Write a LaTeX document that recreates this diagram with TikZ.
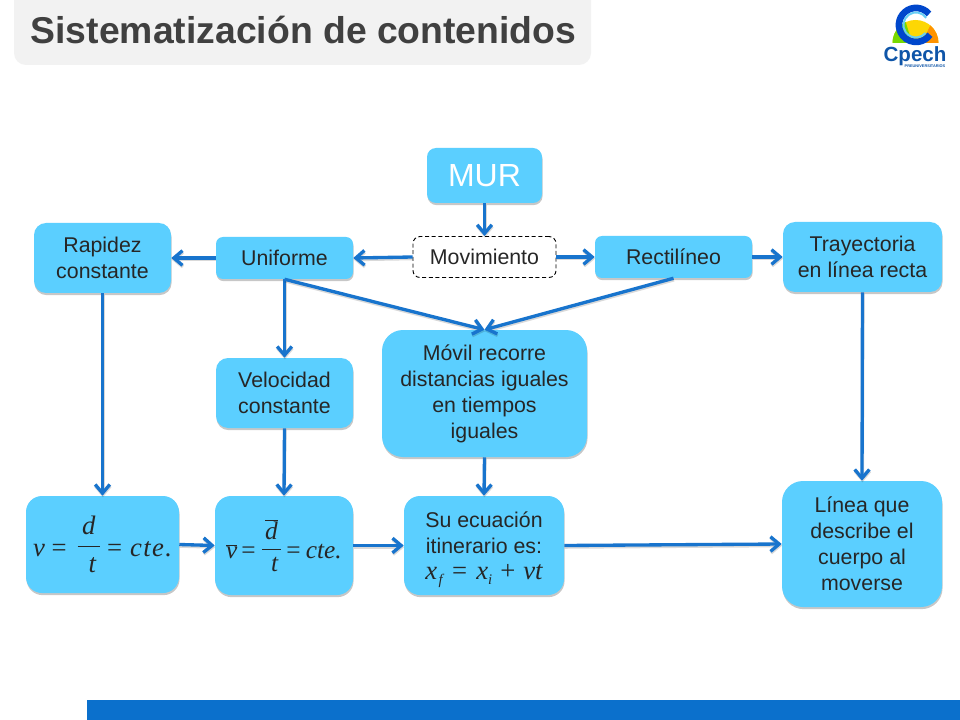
\documentclass[tikz,border=0pt]{standalone}
\usepackage{fontspec}
\setmainfont{Liberation Sans}
\newfontfamily\eqserif{Liberation Serif}
\usetikzlibrary{arrows.meta,shadows,calc}
\definecolor{boxblue}{HTML}{5BCFFF}
\definecolor{arrowblue}{HTML}{1874CD}
\definecolor{barblue}{HTML}{0B70CC}
\definecolor{titlegray}{HTML}{F2F2F2}
\definecolor{titletext}{HTML}{404040}
\definecolor{logoblue}{HTML}{0F55A8}
\newcommand{\mvar}[1]{\hbox{\eqserif\itshape #1}}
\newcommand{\mfrac}[3]{\raisebox{2.6pt}{$\displaystyle\frac{\hbox to #1{\hfil #2\hfil}\rule[-5pt]{0pt}{1pt}}{\hbox to #1{\hfil\rule{0pt}{13pt} #3\hfil}}$}}
\newcommand{\lowidx}[1]{\raisebox{-3.5pt}{\fontsize{11}{11}\selectfont #1}}
\tikzset{
  x=0.75pt,y=-0.75pt,
  softshadow/.style={drop shadow={shadow xshift=0.4pt,shadow yshift=-1.6pt,fill=black,opacity=0.22}},
  bluebox/.style={fill=boxblue,softshadow,inner sep=0pt,align=center,text=black!85,
    font=\fontsize{16}{19.5}\selectfont},
  dims/.style n args={3}{minimum width=#1*0.75pt,minimum height=#2*0.75pt,rounded corners=#3*0.75pt},
  dashbox/.style={draw=black,densely dashed,line width=0.7pt,fill=white,inner sep=0pt,
    font=\fontsize{16}{19.5}\selectfont,text=black!85},
  link/.style={draw=arrowblue,line width=2.5pt,
    -{Straight Barb[length=6.5pt,width=11pt,line width=2.5pt]},
    preaction={draw=black,opacity=0.15,line width=2.5pt,transform canvas={xshift=0.3pt,yshift=-1.2pt}}},
}
\begin{document}
\begin{tikzpicture}
\useasboundingbox (0,0) rectangle (960,720);
\fill[white] (0,0) rectangle (960,720);
% title and bottom band
\fill[titlegray,rounded corners=9pt] (14,-20) rectangle (591,65);
\node[font=\fontsize{28}{32}\selectfont\bfseries,text=titletext,anchor=center,inner sep=0pt] (title) at (303.5,30) {Sistematización de contenidos};
\fill[barblue] (87,700) rectangle (960,720);
% logo
\fill[yellow!75!orange] (892.5,43) arc[start angle=180,end angle=360,radius=23] -- cycle;
\fill[green!45!yellow!85!black] (892.5,43) arc[start angle=180,end angle=245,radius=23] -- (912,43) -- cycle;
\fill[orange!85!yellow] (938.5,43) arc[start angle=360,end angle=310,radius=23] -- (922,43) -- cycle;
\draw[line width=5pt,blue!65!cyan!80!black] (929,14) arc[start angle=-40,end angle=-325,radius=17];
\draw[line width=1.5pt,cyan!60!white] (926.2,17.8) arc[start angle=-35,end angle=-320,radius=12.5];
\node[font=\fontsize{15.4}{16}\selectfont\bfseries,text=logoblue,inner sep=0pt,anchor=center] (logoname) at (915,56.5) {Cpech};
\node[font=\fontsize{2.9}{3}\selectfont\bfseries,text=logoblue,inner sep=0pt,anchor=center] (logosub) at (925,66.5) {PREUNIVERSITARIOS};
% nodes
\node[bluebox,dims={115}{55}{9},text=white,font=\fontsize{24}{28}\selectfont] (mur) at (484.5,175.5) {MUR};
\node[dashbox,dims={143}{41}{7}] (mov) at (484.5,257) {Movimiento};
\node[bluebox,dims={137}{42}{7}] (uni) at (284.5,258) {Uniforme};
\node[bluebox,dims={157}{42}{7}] (rec) at (673.5,257) {Rectilíneo};
\node[bluebox,dims={137}{70}{12}] (rap) at (102.5,258) {Rapidez\\constante};
\node[bluebox,dims={159}{70}{12}] (tra) at (862.5,257) {Trayectoria\\en línea recta};
\node[bluebox,dims={137}{70}{12}] (vel) at (284.5,393) {Velocidad\\constante};
\node[bluebox,dims={205}{127}{21}] (mob) at (484.5,393.5) {Móvil recorre\\distancias iguales\\en tiempos\\iguales};
\node[bluebox,dims={153}{97}{16}] (eqa) at (102.5,544.5) {\fontsize{20}{24}\selectfont\eqserif\itshape v\hspace{5pt}{\upshape =}\hspace{7pt}\mfrac{17pt}{d}{t}\hspace{4pt}{\upshape =}\hspace{6pt}c\hspace{1pt}t\hspace{1pt}e\hspace{1pt}.};
\node[bluebox,dims={138}{99}{16}] (eqb) at (284,545.5) {\fontsize{19}{22}\selectfont\eqserif\itshape $\overline{\mvar{v}}$\hspace{3pt}{\upshape =}\hspace{3.5pt}\mfrac{14pt}{$\overline{\mvar{d}}$}{t}\hspace{3pt}{\upshape =}\hspace{4pt}cte.};
\node[bluebox,dims={160}{99}{16}] (ecu) at (484,545.5) {Su ecuación\\itinerario es:\\\smash{\fontsize{20}{22}\selectfont\eqserif\itshape x\hspace{1pt}\lowidx{f}\hspace{7pt}{\upshape =}\hspace{7pt}x\lowidx{i}\hspace{6pt}{\upshape +}\hspace{6pt}vt}};
\node[bluebox,dims={160}{126}{21}] (lin) at (862,544) {Línea que\\describe el\\cuerpo al\\moverse};
% connectors
\path[link] (mur.south) -- (mov.north);
\path[link] (mov.west) -- (uni.east);
\path[link] (mov.east) -- (rec.west);
\path[link] (uni.west) -- (rap.east);
\path[link] (rec.east) -- (tra.west);
\path[link] (uni.south) -- (vel.north);
\path[link] (uni.south) -- (mob.north);
\path[link] (rec.south) -- (mob.north);
\path[link] (rap.south) -- (eqa.north);
\path[link] (vel.south) -- (eqb.north);
\path[link] (mob.south) -- (ecu.north);
\path[link] (tra.south) -- (lin.north);
\path[link] (eqa.east) -- (eqb.west);
\path[link] (eqb.east) -- (ecu.west);
\path[link] (ecu.east) -- (lin.west);
\end{tikzpicture}
\end{document}
